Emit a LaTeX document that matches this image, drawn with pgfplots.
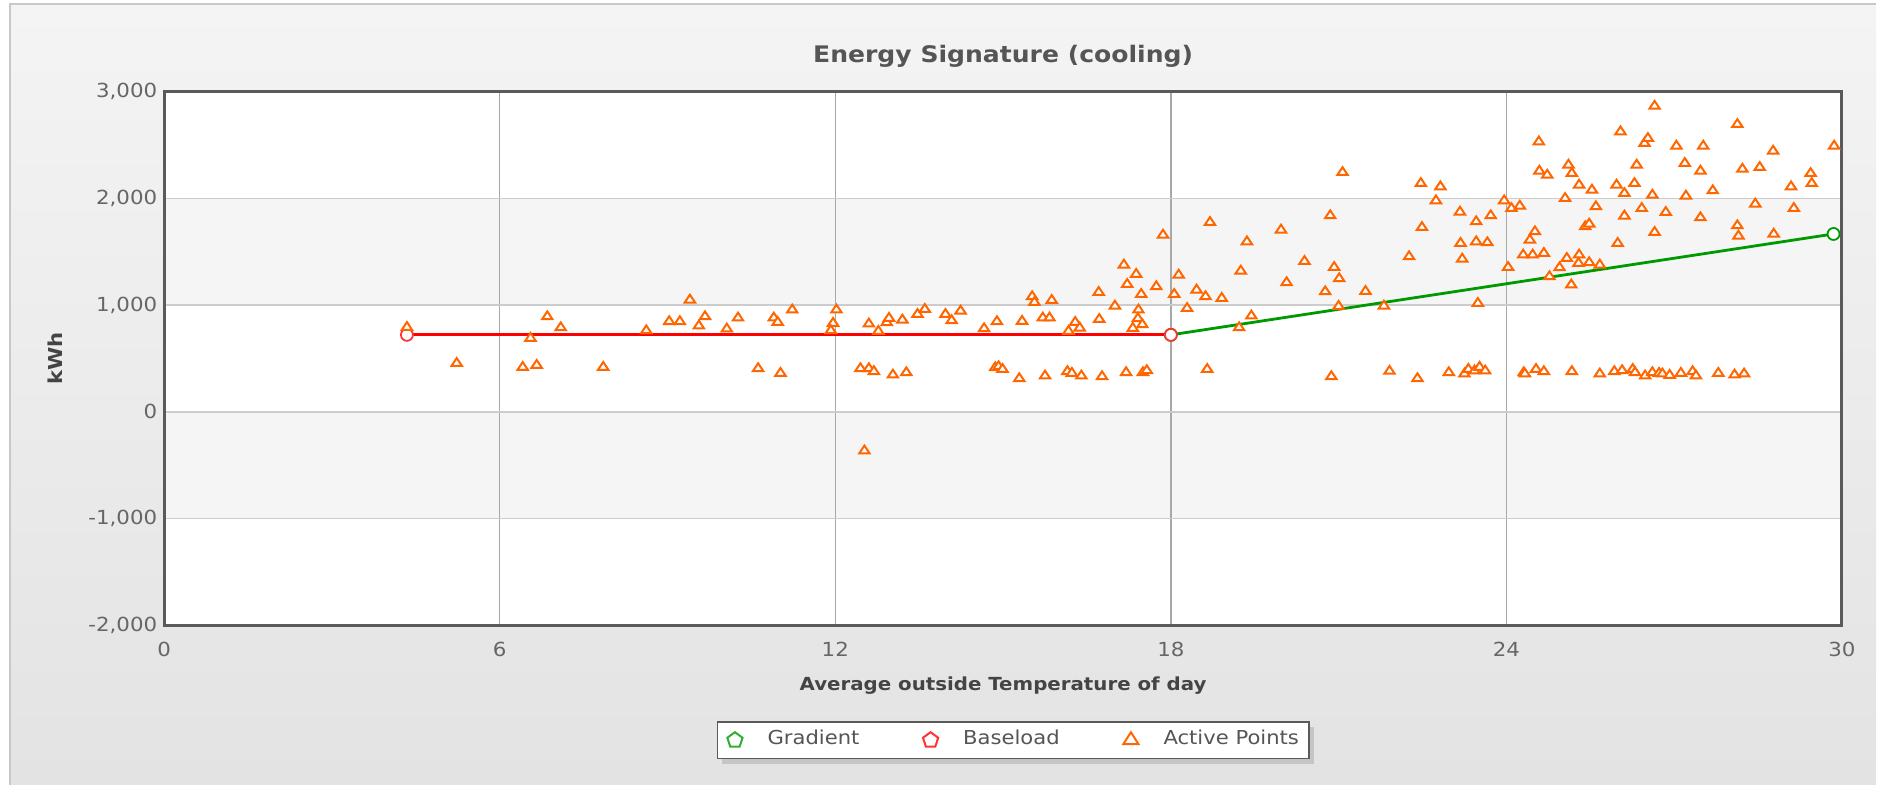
\documentclass[border=0pt]{standalone}
\usepackage{pgfplots}
\pgfplotsset{compat=1.18}
\usepackage{pgfplotstable}
\usepackage{fontspec}
\setmainfont{DejaVu Sans}[FakeStretch=1.1]
\usetikzlibrary{shadows,plotmarks}
\definecolor{actorange}{HTML}{FF6600}
\definecolor{gradgreen}{HTML}{009900}
\definecolor{basered}{HTML}{FF0000}
\definecolor{framegray}{HTML}{5A5A5A}
\definecolor{bandgray}{HTML}{F5F5F5}
\definecolor{ticktext}{HTML}{666666}
\definecolor{titletext}{HTML}{555555}
\definecolor{labeltext}{HTML}{444444}
\definecolor{vgrid}{HTML}{A8A8A8}
\definecolor{hgrid}{HTML}{CCCCCC}
\definecolor{paneltop}{HTML}{F4F4F4}
\definecolor{panelbot}{HTML}{E3E3E3}
\definecolor{panelline}{HTML}{C8C8C8}

\pgfplotstableread{
x y
4.34 792
5.23 455
6.41 418
6.55 690
6.66 437
6.85 892
7.09 789
7.85 418
8.62 761
9.03 846
9.22 846
9.40 1048
9.56 805
9.67 892
10.06 777
10.26 880
10.62 406
10.90 880
10.97 839
11.02 362
11.23 955
11.96 830
11.92 761
12.02 955
12.45 406
12.60 406
12.69 378
12.52 -365
12.60 824
12.77 755
12.92 836
12.96 877
13.03 346
13.20 861
13.27 368
13.47 914
13.60 961
13.97 914
14.08 855
14.24 945
14.66 780
14.86 415
14.92 424
14.99 399
14.89 846
15.29 312
15.34 849
15.52 1080
15.56 1026
15.71 880
15.83 880
15.87 1045
15.75 337
16.15 378
16.23 362
16.17 755
16.29 839
16.37 786
16.40 337
16.71 1120
16.72 867
16.77 331
17.00 992
17.16 1376
17.22 1195
17.38 1289
17.47 1101
17.42 955
17.41 874
17.49 817
17.32 783
17.20 368
17.50 368
17.57 387
17.74 1173
17.86 1657
18.06 1101
18.14 1282
18.29 970
18.46 1142
18.62 1080
18.65 399
18.70 1775
18.91 1064
19.25 1320
19.36 1594
19.22 789
19.44 899
19.97 1704
20.07 1211
20.39 1410
20.76 1126
20.85 1838
20.87 331
20.92 1354
21.01 1248
21.00 989
21.07 2243
21.48 1129
21.81 992
21.91 381
22.26 1454
22.41 312
22.47 2140
22.49 1728
22.74 1978
22.82 2109
22.97 368
23.17 1872
23.18 1579
23.21 1432
23.25 356
23.32 399
23.43 384
23.52 418
23.62 384
23.46 1782
23.46 1594
23.49 1017
23.66 1585
23.72 1838
23.96 1978
24.03 1354
24.09 1906
24.24 1928
24.31 368
24.33 356
24.53 399
24.67 378
25.17 378
25.67 356
25.93 378
26.07 387
26.26 399
26.30 368
26.48 337
26.61 368
26.73 362
26.79 356
26.92 343
27.12 362
27.33 378
27.39 337
27.79 362
28.08 346
28.25 356
24.58 2530
24.59 2256
24.73 2218
25.11 2312
25.17 2234
25.30 2125
25.53 2078
25.05 2000
25.60 1922
24.51 1688
24.42 1610
24.30 1470
24.47 1470
24.67 1485
24.77 1267
24.95 1351
25.08 1438
25.16 1189
25.30 1470
25.29 1392
25.48 1398
25.67 1376
25.41 1735
25.48 1760
26.04 2624
25.97 2125
26.11 2047
26.29 2140
26.33 2312
26.47 2515
26.53 2562
26.65 2864
26.61 2031
26.11 1835
25.99 1579
26.42 1906
26.65 1682
26.85 1869
27.04 2490
27.19 2328
27.21 2022
27.47 2256
27.52 2490
27.47 1819
27.69 2072
28.13 2693
28.22 2274
28.13 1744
28.15 1647
28.45 1947
28.53 2290
28.77 2443
28.78 1666
29.09 2109
29.14 1906
29.44 2234
29.46 2140
29.86 2490
}\activepoints

\begin{document}
\begin{tikzpicture}
\fill[white] (0,0) rectangle (938.5pt,392.5pt);
\shade[top color=paneltop, bottom color=panelbot] (5pt,0pt) rectangle (938.5pt,390.5pt);
\draw[panelline, line width=0.8pt] (5pt,0pt) -- (5pt,390.5pt) -- (938.5pt,390.5pt);
\begin{axis}[
  at={(82.15pt,79.7pt)}, anchor=south west,
  scale only axis, width=839.2pt, height=267pt,
  xmin=0, xmax=30, ymin=-2000, ymax=3000,
  xtick={0,6,12,18,24,30},
  ytick={-2000,-1000,0,1000,2000,3000},
  scaled y ticks=false,
  yticklabel style={/pgf/number format/1000 sep={,}, /pgf/number format/assume math mode=true},
  xticklabel style={/pgf/number format/assume math mode=true},
  axis background/.style={fill=white, path picture={
    \fill[bandgray] ([yshift=53.4pt]path picture bounding box.south west) rectangle ([yshift=-160.2pt]path picture bounding box.north east);
    \fill[bandgray] ([yshift=160.2pt]path picture bounding box.south west) rectangle ([yshift=-53.4pt]path picture bounding box.north east);
  }},
  grid=major,
  x grid style={draw=vgrid, line width=0.7pt},
  y grid style={draw=hgrid, line width=0.7pt},
  axis line style={draw=framegray, line width=1.5pt},
  major tick length=0pt,
  tick style={draw=none},
  ticklabel style={font=\fontsize{9.7}{11}\selectfont, text=ticktext},
  xticklabel style={yshift=-5pt},
  title={Energy Signature (cooling)},
  title style={at={(0.5,1.044)}, anchor=center, yshift=0pt, font=\fontsize{11.4}{13}\selectfont\bfseries, text=titletext},
  xlabel={Average outside Temperature of day},
  xlabel style={at={(0.5,-0.1131)}, anchor=center, font=\fontsize{9}{11}\selectfont\bfseries, text=labeltext},
  ylabel={kWh},
  ylabel style={at={(-0.0651,0.5)}, anchor=center, font=\fontsize{9.6}{11}\selectfont\bfseries, text=labeltext},
  clip=false,
  legend columns=3,
  legend style={at={(0.506,-0.2152)}, anchor=center, draw=framegray, line width=0.8pt, fill=white,
    inner xsep=5pt, inner ysep=4.6pt,
    drop shadow={shadow xshift=2.5pt, shadow yshift=-2.5pt, opacity=0.3},
    font=\fontsize{9.6}{11}\selectfont, text=titletext,
    nodes={inner sep=0pt, text height=7pt, text depth=2.2pt},
    /tikz/every odd column/.append style={column sep=12.5pt},
    /tikz/every even column/.append style={column sep=31.8pt}},
  legend cell align=left,
]
\addplot[gradgreen, line width=1.4pt, mark=*, mark size=3pt,
  mark options={solid, fill=white, line width=0.9pt},
  legend image code/.code={%
    \draw[draw=gradgreen!80!white, line width=1pt, mark=pentagon, mark size=4pt, mark options={fill=white}] plot coordinates {(0pt,0pt)};}]
  coordinates {(18.0,721) (29.85,1666)};
\addlegendentry{Gradient}

\addplot[basered, line width=1.4pt, mark=*, mark size=3pt,
  mark options={solid, draw=basered!80!white, fill=white, line width=0.9pt},
  legend image code/.code={%
    \draw[draw=basered!80!white, line width=1pt, mark=pentagon, mark size=4pt, mark options={fill=white}] plot coordinates {(0pt,0pt)};}]
  coordinates {(4.34,721) (18.0,721)};
\addlegendentry{Baseload}

\addplot[only marks, mark=triangle*, mark size=2.6pt,
  mark options={draw=actorange, fill=white, line width=1pt, xscale=1.15},
  legend image code/.code={%
    \draw[draw=actorange, line width=1pt, mark=triangle, mark size=4pt, mark options={fill=white, xscale=1.1}] plot coordinates {(0pt,0pt)};}]
  table[x=x, y=y] {\activepoints};
\addlegendentry{Active Points}
\end{axis}
\end{tikzpicture}
\end{document}
